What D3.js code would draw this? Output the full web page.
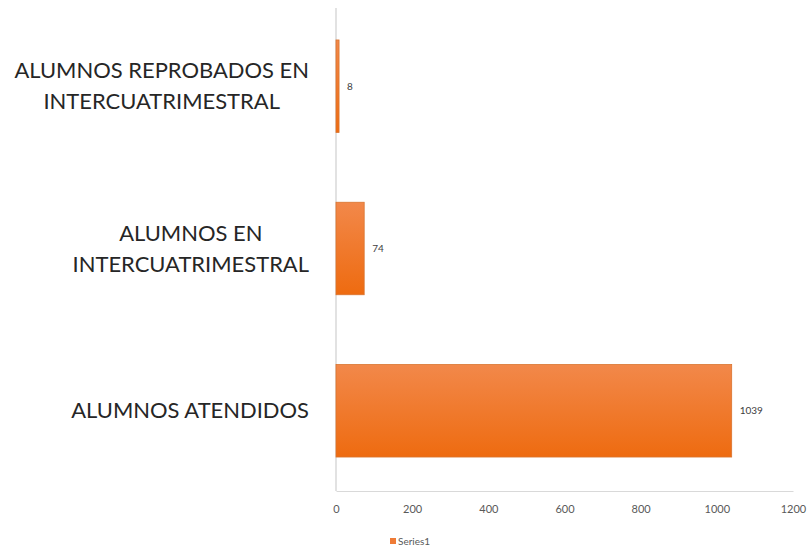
<!DOCTYPE html>
<html>
  <head>
    <meta charset="utf-8">
    <script type="text/javascript" src="https://cdn.jsdelivr.net/npm/d3@7"></script>
    <style type="text/css">
      body { margin: 0; background: #ffffff; }
      svg { display: block; font-family: Lato, "Open Sans", sans-serif; }
    </style>
  </head>
  <body>
    <script type="text/javascript">
      // Chart data
      var categories = [
        ["ALUMNOS REPROBADOS EN", "INTERCUATRIMESTRAL"],
        ["ALUMNOS EN", "INTERCUATRIMESTRAL"],
        ["ALUMNOS ATENDIDOS"]
      ];
      var values = [8, 74, 1039];
      var xTicks = [0, 200, 400, 600, 800, 1000, 1200];
      var seriesName = "Series1";

      var width = 812;
      var height = 552;

      var svg = d3.select("body").append("svg")
        .attr("width", width).attr("height", height);

      // Orange gradient used by the bars
      var grad = svg.append("defs").append("linearGradient")
        .attr("id", "barFill").attr("x1", 0).attr("y1", 0).attr("x2", 0).attr("y2", 1);
      grad.append("stop").attr("offset", "0%").attr("stop-color", "#f2884a");
      grad.append("stop").attr("offset", "100%").attr("stop-color", "#ee6b10");

      // Scales
      var xScale = d3.scaleLinear().domain([0, 1200]).range([336, 793]);
      var yScale = d3.scaleBand().domain(d3.range(values.length))
        .range([8, 489]).paddingInner(0.43).paddingOuter(0.197);

      // Horizontal axis line and tick labels
      var xAxis = d3.axisBottom(xScale).tickValues(xTicks).tickSize(0).tickPadding(14)
        .tickFormat(d3.format("d"));
      var gx = svg.append("g").attr("transform", "translate(0,491)").call(xAxis);
      gx.select(".domain").attr("stroke", "#d9d9d9").attr("stroke-width", 1.2);
      gx.selectAll("text").attr("fill", "#595959").style("font-size", "11px")
        .style("font-family", "Lato, sans-serif");

      // Vertical axis line
      svg.append("line")
        .attr("x1", xScale(0)).attr("x2", xScale(0))
        .attr("y1", 8).attr("y2", 491)
        .attr("stroke", "#d9d9d9").attr("stroke-width", 1.5);

      // Bars
      svg.selectAll("rect.bar").data(values).enter().append("rect")
        .attr("class", "bar")
        .attr("x", xScale(0))
        .attr("y", function(d, i){ return yScale(i); })
        .attr("width", function(d){ return xScale(d) - xScale(0); })
        .attr("height", yScale.bandwidth())
        .attr("fill", "url(#barFill)")
        .attr("stroke", "#d9742f").attr("stroke-width", 0.8);

      // Value labels
      svg.selectAll("text.value").data(values).enter().append("text")
        .attr("class", "value")
        .attr("x", function(d){ return xScale(d) + 8; })
        .attr("y", function(d, i){ return yScale(i) + yScale.bandwidth() / 2; })
        .attr("dy", "0.35em")
        .attr("fill", "#404040").style("font-size", "10px")
        .text(function(d){ return d; });

      // Category labels: each block is centred on its widest line and
      // right-aligned against the axis
      var labelSize = 20;
      var probe = svg.append("text").style("font-size", labelSize + "px").text("ALUMNOS ATENDIDOS");
      labelSize = labelSize * 238 / probe.node().getComputedTextLength();
      probe.remove();
      var lineGap = 31;
      var rightEdge = 309;

      categories.forEach(function(lines, i){
        var cy = yScale(i) + yScale.bandwidth() / 2;
        var g = svg.append("g");
        var texts = g.selectAll("text").data(lines).enter().append("text")
          .attr("text-anchor", "middle")
          .attr("y", function(d, j){ return cy + (j - (lines.length - 1) / 2) * lineGap; })
          .attr("dy", "0.35em")
          .attr("fill", "#262626")
          .style("font-size", labelSize + "px")
          .text(function(d){ return d; });
        var maxW = 0;
        texts.each(function(){ maxW = Math.max(maxW, this.getComputedTextLength()); });
        texts.attr("x", rightEdge - maxW / 2);
      });

      // Legend
      var legend = svg.append("g").attr("transform", "translate(390,541)");
      legend.append("rect").attr("x", 0).attr("y", -3).attr("width", 6).attr("height", 6)
        .attr("fill", "#ef7b36");
      legend.append("text").attr("x", 8).attr("dy", "0.35em")
        .attr("fill", "#595959").style("font-size", "10px").text(seriesName);
    </script>
  </body>
</html>
